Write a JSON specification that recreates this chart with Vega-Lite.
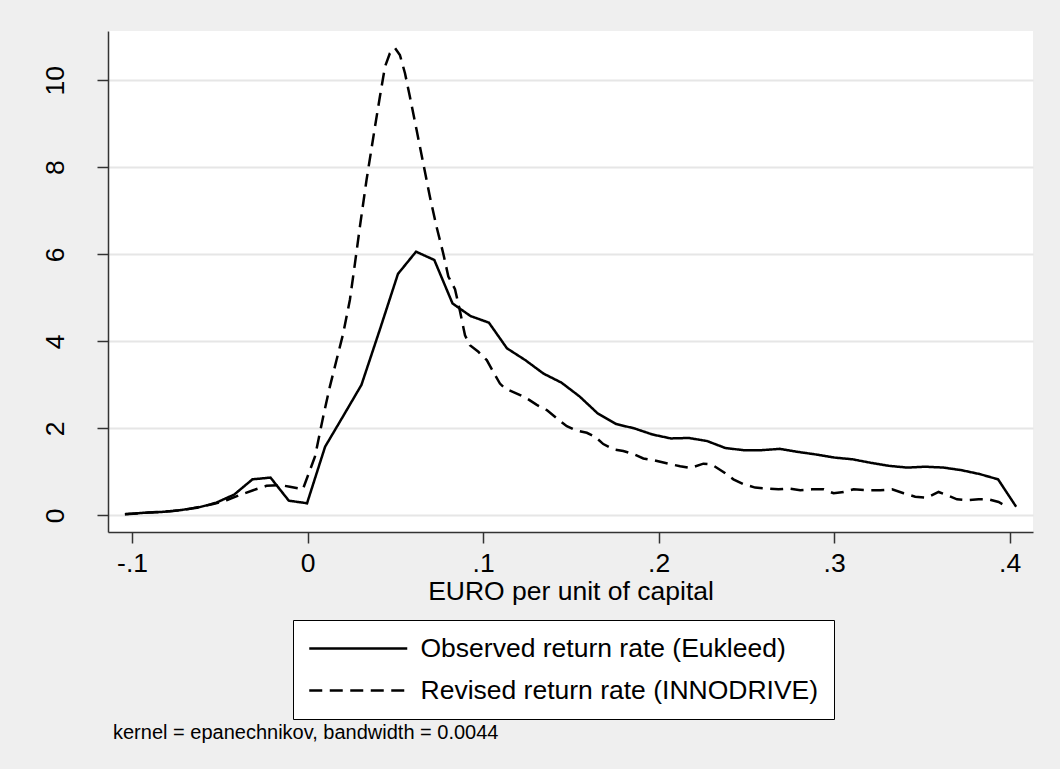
{
  "$schema": "https://vega.github.io/schema/vega-lite/v6.json",
  "autosize": {"type": "none"},
  "width": 925,
  "height": 501,
  "padding": {"left": 108, "top": 31, "right": 27, "bottom": 237},
  "background": "#efefef",
  "config": {
    "view": {"fill": "white", "stroke": null},
    "font": "Liberation Sans, Arial, sans-serif"
  },
  "title": {
    "text": "kernel = epanechnikov, bandwidth = 0.0044",
    "orient": "bottom",
    "anchor": "start",
    "frame": "group",
    "offset": 3,
    "dx": 5,
    "fontSize": 20,
    "fontWeight": "normal",
    "color": "black",
    "font": "Liberation Sans, Arial, sans-serif"
  },
  "data": {
    "values": [
      {"s": "Observed return rate (Eukleed)", "x": -0.104, "y": 0.03},
      {"s": "Observed return rate (Eukleed)", "x": -0.0936, "y": 0.06},
      {"s": "Observed return rate (Eukleed)", "x": -0.0833, "y": 0.08},
      {"s": "Observed return rate (Eukleed)", "x": -0.0729, "y": 0.12},
      {"s": "Observed return rate (Eukleed)", "x": -0.0625, "y": 0.18},
      {"s": "Observed return rate (Eukleed)", "x": -0.0522, "y": 0.29},
      {"s": "Observed return rate (Eukleed)", "x": -0.0418, "y": 0.48},
      {"s": "Observed return rate (Eukleed)", "x": -0.0314, "y": 0.83},
      {"s": "Observed return rate (Eukleed)", "x": -0.0211, "y": 0.87},
      {"s": "Observed return rate (Eukleed)", "x": -0.0107, "y": 0.34},
      {"s": "Observed return rate (Eukleed)", "x": -0.0003, "y": 0.28},
      {"s": "Observed return rate (Eukleed)", "x": 0.0100, "y": 1.58},
      {"s": "Observed return rate (Eukleed)", "x": 0.0204, "y": 2.29},
      {"s": "Observed return rate (Eukleed)", "x": 0.0307, "y": 3.0},
      {"s": "Observed return rate (Eukleed)", "x": 0.0411, "y": 4.26},
      {"s": "Observed return rate (Eukleed)", "x": 0.0515, "y": 5.55},
      {"s": "Observed return rate (Eukleed)", "x": 0.0618, "y": 6.06},
      {"s": "Observed return rate (Eukleed)", "x": 0.0722, "y": 5.87},
      {"s": "Observed return rate (Eukleed)", "x": 0.0826, "y": 4.87},
      {"s": "Observed return rate (Eukleed)", "x": 0.0929, "y": 4.58},
      {"s": "Observed return rate (Eukleed)", "x": 0.1033, "y": 4.43},
      {"s": "Observed return rate (Eukleed)", "x": 0.1136, "y": 3.84},
      {"s": "Observed return rate (Eukleed)", "x": 0.124, "y": 3.57},
      {"s": "Observed return rate (Eukleed)", "x": 0.1344, "y": 3.26},
      {"s": "Observed return rate (Eukleed)", "x": 0.1447, "y": 3.05},
      {"s": "Observed return rate (Eukleed)", "x": 0.1551, "y": 2.73},
      {"s": "Observed return rate (Eukleed)", "x": 0.1654, "y": 2.34},
      {"s": "Observed return rate (Eukleed)", "x": 0.1758, "y": 2.10},
      {"s": "Observed return rate (Eukleed)", "x": 0.1862, "y": 2.0},
      {"s": "Observed return rate (Eukleed)", "x": 0.1965, "y": 1.86},
      {"s": "Observed return rate (Eukleed)", "x": 0.2069, "y": 1.77},
      {"s": "Observed return rate (Eukleed)", "x": 0.2172, "y": 1.78},
      {"s": "Observed return rate (Eukleed)", "x": 0.2276, "y": 1.71},
      {"s": "Observed return rate (Eukleed)", "x": 0.238, "y": 1.55},
      {"s": "Observed return rate (Eukleed)", "x": 0.2483, "y": 1.50},
      {"s": "Observed return rate (Eukleed)", "x": 0.2587, "y": 1.50},
      {"s": "Observed return rate (Eukleed)", "x": 0.269, "y": 1.53},
      {"s": "Observed return rate (Eukleed)", "x": 0.2794, "y": 1.46},
      {"s": "Observed return rate (Eukleed)", "x": 0.2898, "y": 1.40},
      {"s": "Observed return rate (Eukleed)", "x": 0.3001, "y": 1.33},
      {"s": "Observed return rate (Eukleed)", "x": 0.3105, "y": 1.29},
      {"s": "Observed return rate (Eukleed)", "x": 0.3208, "y": 1.21},
      {"s": "Observed return rate (Eukleed)", "x": 0.3312, "y": 1.14},
      {"s": "Observed return rate (Eukleed)", "x": 0.3416, "y": 1.10},
      {"s": "Observed return rate (Eukleed)", "x": 0.3519, "y": 1.12},
      {"s": "Observed return rate (Eukleed)", "x": 0.3623, "y": 1.10},
      {"s": "Observed return rate (Eukleed)", "x": 0.3726, "y": 1.04},
      {"s": "Observed return rate (Eukleed)", "x": 0.383, "y": 0.95},
      {"s": "Observed return rate (Eukleed)", "x": 0.3934, "y": 0.83},
      {"s": "Observed return rate (Eukleed)", "x": 0.4037, "y": 0.20},
      {"s": "Revised return rate (INNODRIVE)", "x": -0.1041, "y": 0.03},
      {"s": "Revised return rate (INNODRIVE)", "x": -0.0956, "y": 0.05},
      {"s": "Revised return rate (INNODRIVE)", "x": -0.0861, "y": 0.08},
      {"s": "Revised return rate (INNODRIVE)", "x": -0.0766, "y": 0.10},
      {"s": "Revised return rate (INNODRIVE)", "x": -0.0690, "y": 0.14},
      {"s": "Revised return rate (INNODRIVE)", "x": -0.0614, "y": 0.20},
      {"s": "Revised return rate (INNODRIVE)", "x": -0.0538, "y": 0.26},
      {"s": "Revised return rate (INNODRIVE)", "x": -0.0462, "y": 0.35},
      {"s": "Revised return rate (INNODRIVE)", "x": -0.0386, "y": 0.47},
      {"s": "Revised return rate (INNODRIVE)", "x": -0.0310, "y": 0.58},
      {"s": "Revised return rate (INNODRIVE)", "x": -0.0234, "y": 0.68},
      {"s": "Revised return rate (INNODRIVE)", "x": -0.0158, "y": 0.70},
      {"s": "Revised return rate (INNODRIVE)", "x": -0.0101, "y": 0.66},
      {"s": "Revised return rate (INNODRIVE)", "x": -0.0027, "y": 0.60},
      {"s": "Revised return rate (INNODRIVE)", "x": 0.0042, "y": 1.35},
      {"s": "Revised return rate (INNODRIVE)", "x": 0.0089, "y": 2.27},
      {"s": "Revised return rate (INNODRIVE)", "x": 0.0127, "y": 2.96},
      {"s": "Revised return rate (INNODRIVE)", "x": 0.0165, "y": 3.57},
      {"s": "Revised return rate (INNODRIVE)", "x": 0.0203, "y": 4.18},
      {"s": "Revised return rate (INNODRIVE)", "x": 0.0241, "y": 4.95},
      {"s": "Revised return rate (INNODRIVE)", "x": 0.0270, "y": 5.79},
      {"s": "Revised return rate (INNODRIVE)", "x": 0.0298, "y": 6.63},
      {"s": "Revised return rate (INNODRIVE)", "x": 0.0336, "y": 7.71},
      {"s": "Revised return rate (INNODRIVE)", "x": 0.0384, "y": 8.93},
      {"s": "Revised return rate (INNODRIVE)", "x": 0.0412, "y": 9.62},
      {"s": "Revised return rate (INNODRIVE)", "x": 0.0441, "y": 10.31},
      {"s": "Revised return rate (INNODRIVE)", "x": 0.0469, "y": 10.62},
      {"s": "Revised return rate (INNODRIVE)", "x": 0.0498, "y": 10.74},
      {"s": "Revised return rate (INNODRIVE)", "x": 0.0526, "y": 10.58},
      {"s": "Revised return rate (INNODRIVE)", "x": 0.0555, "y": 10.16},
      {"s": "Revised return rate (INNODRIVE)", "x": 0.0583, "y": 9.62},
      {"s": "Revised return rate (INNODRIVE)", "x": 0.0621, "y": 8.86},
      {"s": "Revised return rate (INNODRIVE)", "x": 0.0659, "y": 8.09},
      {"s": "Revised return rate (INNODRIVE)", "x": 0.0697, "y": 7.32},
      {"s": "Revised return rate (INNODRIVE)", "x": 0.0735, "y": 6.63},
      {"s": "Revised return rate (INNODRIVE)", "x": 0.0773, "y": 6.02},
      {"s": "Revised return rate (INNODRIVE)", "x": 0.0802, "y": 5.49},
      {"s": "Revised return rate (INNODRIVE)", "x": 0.0840, "y": 5.2},
      {"s": "Revised return rate (INNODRIVE)", "x": 0.0868, "y": 4.7},
      {"s": "Revised return rate (INNODRIVE)", "x": 0.0897, "y": 4.14},
      {"s": "Revised return rate (INNODRIVE)", "x": 0.0925, "y": 3.91},
      {"s": "Revised return rate (INNODRIVE)", "x": 0.0973, "y": 3.76},
      {"s": "Revised return rate (INNODRIVE)", "x": 0.1021, "y": 3.57},
      {"s": "Revised return rate (INNODRIVE)", "x": 0.1058, "y": 3.30},
      {"s": "Revised return rate (INNODRIVE)", "x": 0.1096, "y": 3.03},
      {"s": "Revised return rate (INNODRIVE)", "x": 0.1125, "y": 2.92},
      {"s": "Revised return rate (INNODRIVE)", "x": 0.1192, "y": 2.80},
      {"s": "Revised return rate (INNODRIVE)", "x": 0.1249, "y": 2.69},
      {"s": "Revised return rate (INNODRIVE)", "x": 0.1306, "y": 2.54},
      {"s": "Revised return rate (INNODRIVE)", "x": 0.1363, "y": 2.42},
      {"s": "Revised return rate (INNODRIVE)", "x": 0.1420, "y": 2.23},
      {"s": "Revised return rate (INNODRIVE)", "x": 0.1477, "y": 2.05},
      {"s": "Revised return rate (INNODRIVE)", "x": 0.1534, "y": 1.95},
      {"s": "Revised return rate (INNODRIVE)", "x": 0.1591, "y": 1.90},
      {"s": "Revised return rate (INNODRIVE)", "x": 0.1638, "y": 1.81},
      {"s": "Revised return rate (INNODRIVE)", "x": 0.1685, "y": 1.64},
      {"s": "Revised return rate (INNODRIVE)", "x": 0.1742, "y": 1.52},
      {"s": "Revised return rate (INNODRIVE)", "x": 0.1799, "y": 1.48},
      {"s": "Revised return rate (INNODRIVE)", "x": 0.1856, "y": 1.41},
      {"s": "Revised return rate (INNODRIVE)", "x": 0.1913, "y": 1.31},
      {"s": "Revised return rate (INNODRIVE)", "x": 0.1970, "y": 1.27},
      {"s": "Revised return rate (INNODRIVE)", "x": 0.2066, "y": 1.18},
      {"s": "Revised return rate (INNODRIVE)", "x": 0.2123, "y": 1.13},
      {"s": "Revised return rate (INNODRIVE)", "x": 0.2180, "y": 1.09},
      {"s": "Revised return rate (INNODRIVE)", "x": 0.2255, "y": 1.19},
      {"s": "Revised return rate (INNODRIVE)", "x": 0.2303, "y": 1.17},
      {"s": "Revised return rate (INNODRIVE)", "x": 0.2369, "y": 1.0},
      {"s": "Revised return rate (INNODRIVE)", "x": 0.2426, "y": 0.83},
      {"s": "Revised return rate (INNODRIVE)", "x": 0.2483, "y": 0.72},
      {"s": "Revised return rate (INNODRIVE)", "x": 0.2550, "y": 0.64},
      {"s": "Revised return rate (INNODRIVE)", "x": 0.2617, "y": 0.62},
      {"s": "Revised return rate (INNODRIVE)", "x": 0.2683, "y": 0.60},
      {"s": "Revised return rate (INNODRIVE)", "x": 0.2740, "y": 0.62},
      {"s": "Revised return rate (INNODRIVE)", "x": 0.2807, "y": 0.58},
      {"s": "Revised return rate (INNODRIVE)", "x": 0.2873, "y": 0.60},
      {"s": "Revised return rate (INNODRIVE)", "x": 0.2940, "y": 0.60},
      {"s": "Revised return rate (INNODRIVE)", "x": 0.2997, "y": 0.51},
      {"s": "Revised return rate (INNODRIVE)", "x": 0.3054, "y": 0.54},
      {"s": "Revised return rate (INNODRIVE)", "x": 0.3111, "y": 0.60},
      {"s": "Revised return rate (INNODRIVE)", "x": 0.3187, "y": 0.58},
      {"s": "Revised return rate (INNODRIVE)", "x": 0.3263, "y": 0.58},
      {"s": "Revised return rate (INNODRIVE)", "x": 0.3330, "y": 0.60},
      {"s": "Revised return rate (INNODRIVE)", "x": 0.3396, "y": 0.51},
      {"s": "Revised return rate (INNODRIVE)", "x": 0.3462, "y": 0.43},
      {"s": "Revised return rate (INNODRIVE)", "x": 0.3529, "y": 0.41},
      {"s": "Revised return rate (INNODRIVE)", "x": 0.3595, "y": 0.54},
      {"s": "Revised return rate (INNODRIVE)", "x": 0.3643, "y": 0.47},
      {"s": "Revised return rate (INNODRIVE)", "x": 0.3700, "y": 0.37},
      {"s": "Revised return rate (INNODRIVE)", "x": 0.3757, "y": 0.35},
      {"s": "Revised return rate (INNODRIVE)", "x": 0.3823, "y": 0.37},
      {"s": "Revised return rate (INNODRIVE)", "x": 0.3880, "y": 0.37},
      {"s": "Revised return rate (INNODRIVE)", "x": 0.3937, "y": 0.31},
      {"s": "Revised return rate (INNODRIVE)", "x": 0.3994, "y": 0.18}
    ]
  },
  "mark": {"type": "line", "color": "black", "strokeWidth": 2.5, "clip": true},
  "encoding": {
    "x": {
      "field": "x",
      "type": "quantitative",
      "scale": {"domain": [-0.1137, 0.4133], "nice": false, "zero": false},
      "axis": {
        "values": [-0.1, 0, 0.1, 0.2, 0.3, 0.4],
        "labelExpr": "datum.value == 0 ? '0' : (datum.value < 0 ? '-' : '') + '.' + round(abs(datum.value) * 10)",
        "title": "EURO per unit of capital",
        "titleFontSize": 26.5,
        "titleFontWeight": "normal",
        "titleColor": "black",
        "titlePadding": 2,
        "labelFontSize": 26.5,
        "labelColor": "black",
        "labelPadding": 7,
        "labelFlush": false,
        "labelOverlap": false,
        "tickSize": 11,
        "tickColor": "#333333",
        "tickWidth": 1.5,
        "domainColor": "#333333",
        "domainWidth": 1.5,
        "grid": false
      }
    },
    "y": {
      "field": "y",
      "type": "quantitative",
      "scale": {"domain": [-0.38, 11.13], "nice": false, "zero": false},
      "axis": {
        "values": [0, 2, 4, 6, 8, 10],
        "title": null,
        "labelFontSize": 26.5,
        "labelColor": "black",
        "labelAngle": 270,
        "labelAlign": "center",
        "labelBaseline": "bottom",
        "labelPadding": 28,
        "labelFlush": false,
        "labelOverlap": false,
        "tickSize": 11,
        "tickColor": "#333333",
        "tickWidth": 1.5,
        "domainColor": "#333333",
        "domainWidth": 1.5,
        "grid": true,
        "gridColor": "#e6e6e6",
        "gridWidth": 2
      }
    },
    "strokeDash": {
      "field": "s",
      "type": "nominal",
      "scale": {
        "domain": ["Observed return rate (Eukleed)", "Revised return rate (INNODRIVE)"],
        "range": [[1, 0], [13, 7.5]]
      },
      "legend": {
        "title": null,
        "orient": "none",
        "legendX": 185,
        "legendY": 589,
        "direction": "vertical",
        "fillColor": "white",
        "strokeColor": "black",
        "padding": 15,
        "symbolType": "M-1,0H7",
        "symbolSize": 600.25,
        "symbolStrokeWidth": 2.5,
        "symbolStrokeColor": "black",
        "symbolFillColor": "transparent",
        "labelFontSize": 26.5,
        "labelColor": "black",
        "labelOffset": 85.5,
        "labelLimit": 600,
        "rowPadding": 15
      }
    }
  }
}
